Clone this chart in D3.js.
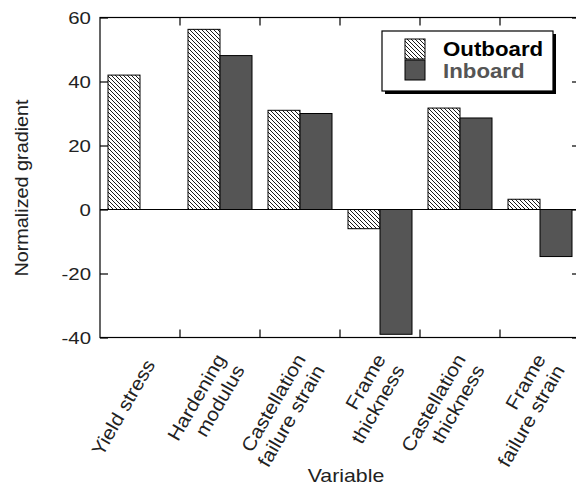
<!DOCTYPE html>
<html><head><meta charset="utf-8">
<script src="https://cdn.jsdelivr.net/npm/d3@7"></script>
<style>body{margin:0;background:#fff}svg{display:block}text{font-family:"Liberation Sans",Arial,sans-serif}</style>
</head><body><svg id="c" width="576" height="487"></svg>
<script>
const categories = [["Yield stress"],["Hardening","modulus"],["Castellation","failure strain"],["Frame","thickness"],["Castellation","thickness"],["Frame","failure strain"]];
const series = ["Outboard","Inboard"];
const outboard = [42, 56.3, 31, -6, 31.7, 3.2];
const inboard = [null, 48.1, 30, -39, 28.6, -14.7];
const yTicks = [-40,-20,0,20,40,60];

const svg = d3.select("#c");
const L=100, R=580, T=17.5, B=337.5;
const x = d3.scaleBand().domain(d3.range(categories.length)).range([L,R]).paddingInner(0).paddingOuter(0);
const xs = d3.scaleBand().domain(series).range([0,x.bandwidth()]).paddingInner(0).paddingOuter(0.25);
const y = d3.scaleLinear().domain([-40,60]).range([B,T]);

const defs = svg.append("defs");
const pat = defs.append("pattern").attr("id","hatch").attr("patternUnits","userSpaceOnUse").attr("width",4).attr("height",4);
pat.append("rect").attr("width",4).attr("height",4).attr("fill","#fff");
pat.append("path").attr("d","M-1,-1L5,5M-1,3L1,5M3,-1L5,1").attr("stroke","#000").attr("stroke-width",0.9);

function stretch(sel,k){sel.each(function(){const w=this.getComputedTextLength();d3.select(this).attr("textLength",w*k).attr("lengthAdjust","spacingAndGlyphs");});}

// bars
const data = [outboard, inboard];
series.forEach((s,si)=>{
  svg.append("g").selectAll("rect").data(data[si].map((v,i)=>({v,i})).filter(d=>d.v!==null)).join("rect")
    .attr("x",d=>x(d.i)+xs(s)).attr("width",xs.bandwidth())
    .attr("y",d=>y(Math.max(0,d.v))).attr("height",d=>Math.abs(y(d.v)-y(0)))
    .attr("fill",si===0?"url(#hatch)":"#555").attr("stroke","#000").attr("stroke-width",1);
});

// zero line
svg.append("line").attr("x1",L).attr("x2",R).attr("y1",y(0)).attr("y2",y(0)).attr("stroke","#000").attr("stroke-width",1);

// frame
svg.append("rect").attr("x",L).attr("y",T).attr("width",R-L).attr("height",B-T).attr("fill","none").attr("stroke","#000").attr("stroke-width",1.2);

// y axes (ticks inward)
const yl = svg.append("g").attr("transform",`translate(${L},0)`).call(d3.axisRight(y).tickValues(yTicks).tickSize(8).tickFormat(""));
yl.select(".domain").remove();
const yr = svg.append("g").attr("transform",`translate(${R},0)`).call(d3.axisLeft(y).tickValues(yTicks).tickSize(8).tickFormat(""));
yr.select(".domain").remove();
svg.selectAll(".tick line").attr("stroke","#000").attr("stroke-width",1.2);
// y labels
svg.append("g").selectAll("text").data(yTicks).join("text")
  .attr("x",91).attr("y",d=>y(d)).attr("dy","0.36em").attr("text-anchor","end")
  .attr("font-size",17).attr("fill","#222").text(d=>d).call(stretch,1.2);

// category boundary ticks top and bottom
const bounds = d3.range(1,categories.length).map(i=>x(i));
svg.append("g").selectAll("line").data(bounds).join("line")
  .attr("x1",d=>d).attr("x2",d=>d).attr("y1",T).attr("y2",T+8).attr("stroke","#000").attr("stroke-width",1.2);
svg.append("g").selectAll("line").data(bounds).join("line")
  .attr("x1",d=>d).attr("x2",d=>d).attr("y1",B).attr("y2",B-8).attr("stroke","#000").attr("stroke-width",1.2);

// x category labels
const lh = 22;
categories.forEach((lines,i)=>{
  const cx = x(i)+x.bandwidth()/2;
  const g = svg.append("g").attr("transform",`translate(${cx+10},361) rotate(-60)`);
  const n = lines.length;
  lines.forEach((t,j)=>{
    g.append("text").attr("x",0).attr("y",(j-(n-1)/2)*lh).attr("dy","0.35em")
      .attr("text-anchor","end").attr("font-size",19).attr("fill","#222").text(t).call(stretch,1.1);
  });
});

// axis titles
svg.append("text").attr("x",346).attr("y",482).attr("text-anchor","middle").attr("font-size",19).attr("fill","#222").text("Variable").call(stretch,1.12);
svg.append("text").attr("transform","translate(28,188) rotate(-90)").attr("text-anchor","middle").attr("font-size",18).attr("fill","#222").text("Normalized gradient").call(stretch,1.1);

// legend
const lg = svg.append("g");
lg.append("rect").attr("x",385).attr("y",34).attr("width",171).attr("height",60).attr("fill","#000");
lg.append("rect").attr("x",382).attr("y",31).attr("width",171).attr("height",60).attr("fill","#fff").attr("stroke","#000").attr("stroke-width",1.2);
const sw = [{s:series[0],f:"url(#hatch)",c:"#000"},{s:series[1],f:"#555",c:"#555"}];
sw.forEach((d,i)=>{
  lg.append("rect").attr("x",405).attr("y",39+i*21).attr("width",20).attr("height",20).attr("fill",d.f).attr("stroke","#000").attr("stroke-width",1);
  lg.append("text").attr("x",443).attr("y",56+i*22).attr("font-size",21).attr("font-weight","bold").attr("fill",d.c).text(d.s).call(stretch,1.06);
});
</script></body></html>
